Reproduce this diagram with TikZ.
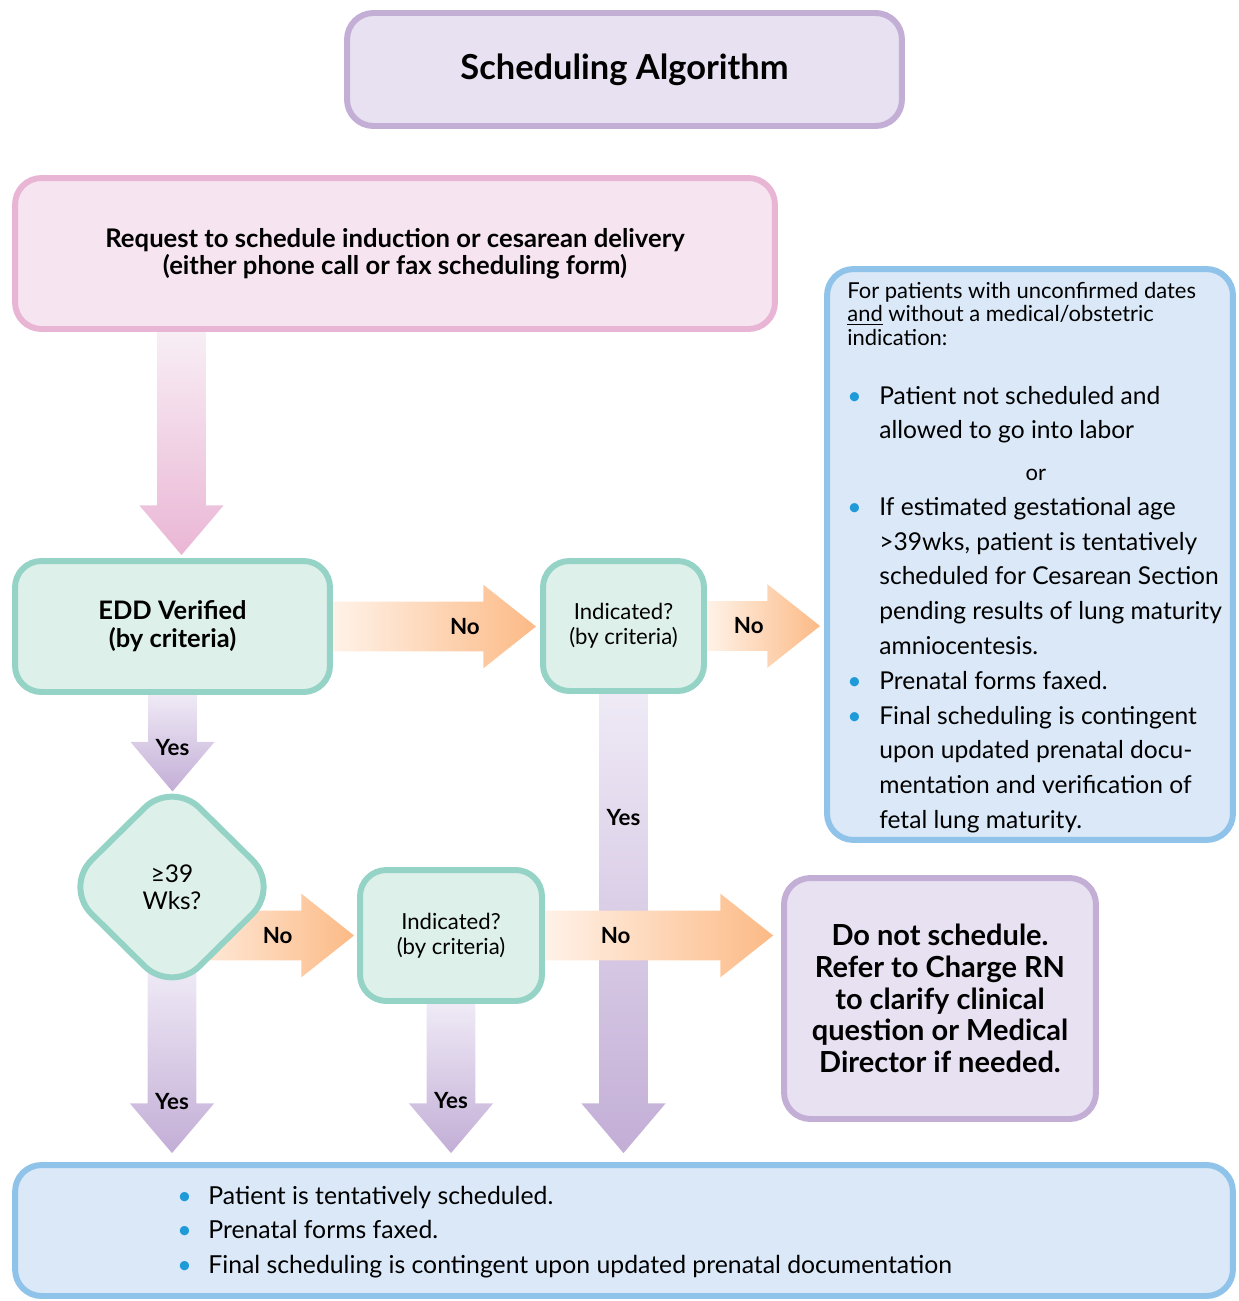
\documentclass[tikz,border=0pt]{standalone}
\usepackage{fontspec}
\setmainfont{Lato}
\usetikzlibrary{shapes.geometric,calc,backgrounds}
\definecolor{lilacline}{HTML}{C3AED5}
\definecolor{lilacfill}{HTML}{E8E1F1}
\definecolor{pinkline}{HTML}{E9B5D5}
\definecolor{pinkfill}{HTML}{F6E5F1}
\definecolor{tealline}{HTML}{94D3C5}
\definecolor{tealfill}{HTML}{DEF0EA}
\definecolor{blueline}{HTML}{8FC3EA}
\definecolor{bluefill}{HTML}{DAE8F7}
\definecolor{dotblue}{HTML}{1E9AD8}
\definecolor{orangelight}{HTML}{FFF2E8}
\definecolor{orangedark}{HTML}{FCBA86}
\definecolor{lilaclight}{HTML}{EFEAF6}
\definecolor{lilacdark}{HTML}{C3AED6}
\definecolor{pinklight}{HTML}{F8EEF5}
\definecolor{pinkdark}{HTML}{EAB6D5}
\newcommand\flowdown[6][2pt]{%
  \shade[#4] let \p1=(#2), \p3=([yshift=#1]#3) in
    ({\x1-13.9pt},\y1) -- ({\x1+13.9pt},\y1) -- ({\x1+13.9pt},{\y3+28.3pt})
    -- ({\x1+24pt},{\y3+28.3pt}) -- (\x1,\y3) -- ({\x1-24pt},{\y3+28.3pt})
    -- ({\x1-13.9pt},{\y3+28.3pt}) -- cycle;
  \if\relax\detokenize{#6}\relax\else
  \path let \p1=(#2), \p3=([yshift=#1]#3) in
    ($(\p1)!#5!(\x1,\y3)$) node[flowlabel] {#6};\fi}
\newcommand\flowright[6][2pt]{%
  \shade[#4] let \p1=(#2), \p3=([xshift=-#1]#3) in
    (\x1,{\y1+14.2pt}) -- ({\x3-30pt},{\y1+14.2pt}) -- ({\x3-30pt},{\y1+23.8pt})
    -- (\x3,\y1) -- ({\x3-30pt},{\y1-23.8pt}) -- ({\x3-30pt},{\y1-14.2pt})
    -- (\x1,{\y1-14.2pt}) -- cycle;
  \path let \p1=(#2), \p3=([xshift=-#1]#3) in
    ($(\p1)!#5!(\x3,\y1)$) node[flowlabel] {#6};}
\begin{document}
\begin{tikzpicture}[x=0.02cm,y=-0.02cm,
    box/.style={draw,line width=3.4pt,rounded corners=15pt,align=center,inner sep=0pt},
    lilacbox/.style={box,draw=lilacline,fill=lilacfill},
    pinkbox/.style={box,draw=pinkline,fill=pinkfill},
    tealbox/.style={box,draw=tealline,fill=tealfill},
    bluebox/.style={box,draw=blueline,fill=bluefill},
    flowlabel/.style={inner sep=0pt,font=\bfseries\fontsize{12.7}{14}\selectfont},
    orangeflow/.style={left color=orangelight,right color=orangedark},
    lilacflow/.style={top color=lilaclight,bottom color=lilacdark},
    pinkflow/.style={top color=pinklight,bottom color=pinkdark}]
  \useasboundingbox (0,0) rectangle (1238,1301);
  \node[lilacbox,minimum width=11.1cm,minimum height=2.26cm,
    font=\bfseries\fontsize{19.6}{22}\selectfont] (title) at (624.5,69.5) {\raisebox{2pt}{Scheduling Algorithm}};
  \node[pinkbox,minimum width=15.2cm,minimum height=3.02cm,
    font=\bfseries\fontsize{14.6}{15.3}\selectfont] (request) at (395,253.5)
    {Request to schedule induction or cesarean delivery\\(either phone call or fax scheduling form)};
  \node[tealbox,minimum width=6.3cm,minimum height=2.62cm,
    font=\bfseries\fontsize{14.5}{15.9}\selectfont] (edd) at (172.5,626.5) {EDD Verified\\(by criteria)};
  \node[tealbox,minimum width=3.22cm,minimum height=2.6cm,
    font=\fontsize{12.6}{14.2}\selectfont] (indic) at (623.5,626) {Indicated?\\(by criteria)};
  \node[tealbox,shape=diamond,rounded corners=22pt,minimum width=4.36cm,minimum height=4.3cm,
    font=\fontsize{13.9}{15.3}\selectfont] (weeks) at (172,887) {≥39\\Wks?};
  \node[tealbox,minimum width=3.64cm,minimum height=2.62cm,
    font=\fontsize{12.6}{14.2}\selectfont] (indicb) at (451,935.5) {Indicated?\\(by criteria)};
  \node[lilacbox,minimum width=6.24cm,minimum height=4.82cm,
    font=\bfseries\fontsize{16.5}{18.1}\selectfont] (refer) at (940,998.5)
    {Do not schedule.\\Refer to Charge RN\\to clarify clinical\\question or Medical\\Director if needed.};
  \node[bluebox,minimum width=8.12cm,minimum height=11.42cm] (unconf) at (1030,554.5) {};
  \node[bluebox,minimum width=24.36cm,minimum height=2.62cm] (tentative) at (624,1230.5) {};
  \node[anchor=base west,inner sep=0pt,font=\fontsize{12.5}{13.6}\selectfont] (unconfhead) at (847,298)
    {\begin{tabular}[t]{@{}l@{}}For patients with unconfirmed dates\\
     \underline{and} without a medical/obstetric\\ indication:\end{tabular}};
  \node[anchor=base west,inner sep=0pt,font=\fontsize{14}{19.8}\selectfont] (unconflist) at (847,404)
    {\begin{tabular}[t]{@{}p{0.64cm}@{}p{6.9cm}@{}}
     \textcolor{dotblue}{\textbullet} & Patient not scheduled and\\
     & allowed to go into labor\\[4pt]
     \multicolumn{2}{c}{\fontsize{12.5}{13.6}\selectfont or}\\
     \textcolor{dotblue}{\textbullet} & If estimated gestational age\\
     & >39wks, patient is tentatively\\
     & scheduled for Cesarean Section\\
     & pending results of lung maturity\\
     & amniocentesis.\\
     \textcolor{dotblue}{\textbullet} & Prenatal forms faxed.\\
     \textcolor{dotblue}{\textbullet} & Final scheduling is contingent\\
     & upon updated prenatal docu-\\
     & mentation and verification of\\
     & fetal lung maturity.
     \end{tabular}};
  \node[anchor=base west,inner sep=0pt,font=\fontsize{14.1}{19.8}\selectfont] (tentlist) at (177,1204)
    {\begin{tabular}[t]{@{}p{0.62cm}@{}l@{}}
     \textcolor{dotblue}{\textbullet} & Patient is tentatively scheduled.\\
     \textcolor{dotblue}{\textbullet} & Prenatal forms faxed.\\
     \textcolor{dotblue}{\textbullet} & Final scheduling is contingent upon updated prenatal documentation
     \end{tabular}};
  \begin{pgfonlayer}{background}
    \flowdown[1.7pt]{$(request.south -| edd.north)+(9,0)$}{edd.north}{pinkflow}{0.5}{}
    \flowdown[-8.5pt]{edd.south}{weeks.north}{lilacflow}{0.54}{Yes}
    \flowdown[5.1pt]{indic.south}{tentative.north}{lilacflow}{0.27}{Yes}
    \flowdown[5.1pt]{[yshift=16pt]weeks.south}{tentative.north}{lilacflow}{0.72}{Yes}
    \flowdown[5.1pt]{indicb.south}{tentative.north}{lilacflow}{0.65}{Yes}
    \flowright[2.3pt]{edd.east}{indic.west}{orangeflow}{0.65}{No}
    \flowright[2.3pt]{indic.east}{unconf.west}{orangeflow}{0.37}{No}
    \flowright[1.7pt]{weeks.center |- indicb.west}{indicb.west}{orangeflow}{0.58}{No}
    \flowright[4.5pt]{indicb.east}{refer.west}{orangeflow}{0.31}{No}
  \end{pgfonlayer}
\end{tikzpicture}
\end{document}
